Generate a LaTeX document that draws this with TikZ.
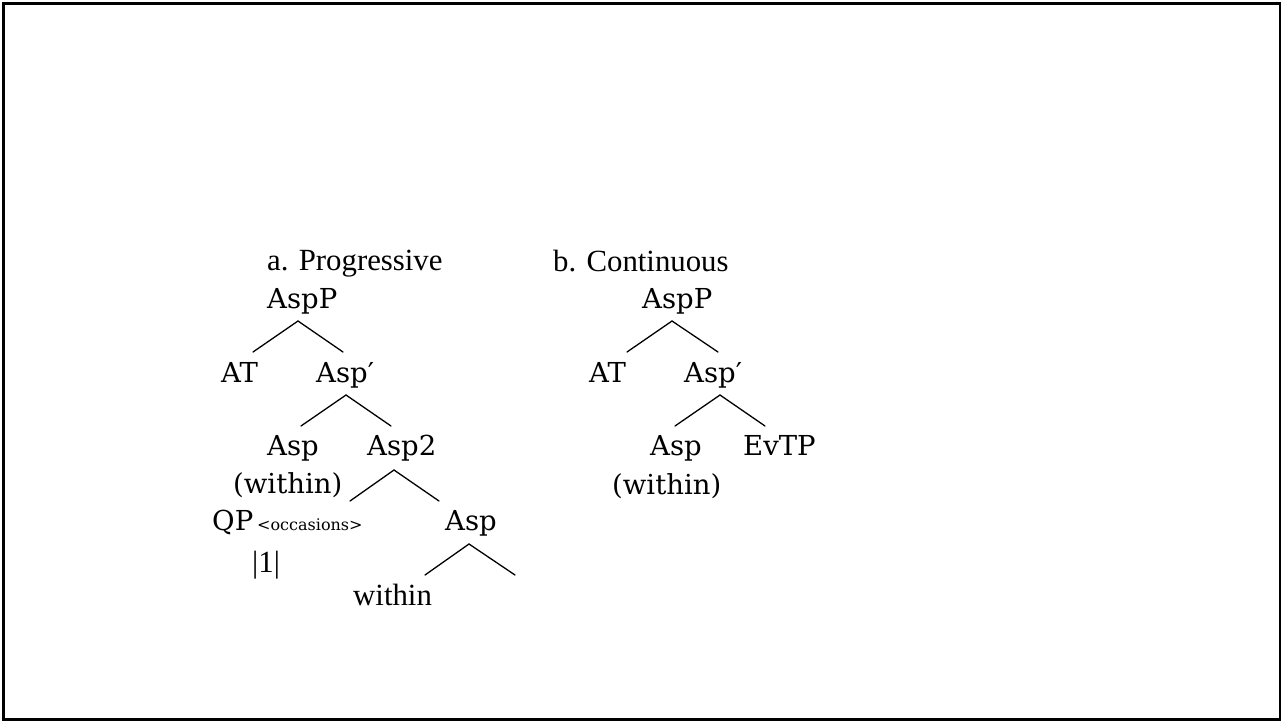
\documentclass[tikz,border=0pt]{standalone}
\usepackage{fontspec}
\newfontfamily\camfont{DejaVu Serif}
\newfontfamily\tmsfont{Liberation Serif}
\tikzset{
  lab/.style={inner sep=0pt, anchor=base west, font=\camfont\fontsize{27.5}{30}\selectfont},
  tlab/.style={inner sep=0pt, anchor=base west, font=\tmsfont\fontsize{30.8}{33}\selectfont},
  small/.style={inner sep=0pt, anchor=base west, font=\camfont\fontsize{16}{18}\selectfont},
  branch/.style={line width=1.3pt, line cap=round}
}
\begin{document}
\begin{tikzpicture}[x=1pt,y=-1pt]
\useasboundingbox (0,0) rectangle (1281,720);
\draw[line width=2.6pt] (3.5,3.5) rectangle (1279.8,719.2);

% tree a
\node[tlab] (atitle) at (267,270) {a. Progressive};
\node[lab] (aAspP) at (267,308) {AspP};
\node[lab] (aAT) at (221,382) {AT};
\node[lab] (aAspbar) at (316,382) {Asp′};
\node[lab] (aAsp) at (267,455) {Asp};
\node[lab] (aAsp2) at (367,455) {Asp2};
\node[lab] (aWithin) at (233,493) {(within)};
\node[lab] (aQP) at (212,530) {QP};
\node[small] (aOcc) at (257,530) {<occasions>};
\node[lab] (aAspLow) at (445,530) {Asp};
\node[tlab] (aOne) at (252,572) {|1|};
\node[tlab] (aWithinLow) at (353,605) {within};

\coordinate (a1l) at (253,352); \coordinate (a1t) at (298,321); \coordinate (a1r) at (343,352);
\coordinate (a2l) at (301,426); \coordinate (a2t) at (346,395); \coordinate (a2r) at (391,426);
\coordinate (a3l) at (350,501); \coordinate (a3t) at (394,470); \coordinate (a3r) at (439,501);
\coordinate (a4l) at (425,575); \coordinate (a4t) at (469,544); \coordinate (a4r) at (515,575);
\draw[branch] (a1l) -- (a1t) -- (a1r);
\draw[branch] (a2l) -- (a2t) -- (a2r);
\draw[branch] (a3l) -- (a3t) -- (a3r);
\draw[branch] (a4l) -- (a4t) -- (a4r);

% tree b
\node[tlab] (btitle) at (553,271) {b. Continuous};
\node[lab] (bAspP) at (642,308) {AspP};
\node[lab] (bAT) at (589,382) {AT};
\node[lab] (bAspbar) at (684,382) {Asp′};
\node[lab] (bAsp) at (650,455) {Asp};
\node[lab] (bEvTP) at (743,455) {EvTP};
\node[lab] (bWithin) at (612,494) {(within)};

\coordinate (b1l) at (627,352); \coordinate (b1t) at (672,321); \coordinate (b1r) at (718,352);
\coordinate (b2l) at (675,426); \coordinate (b2t) at (720,395); \coordinate (b2r) at (765,426);
\draw[branch] (b1l) -- (b1t) -- (b1r);
\draw[branch] (b2l) -- (b2t) -- (b2r);
\end{tikzpicture}
\end{document}
